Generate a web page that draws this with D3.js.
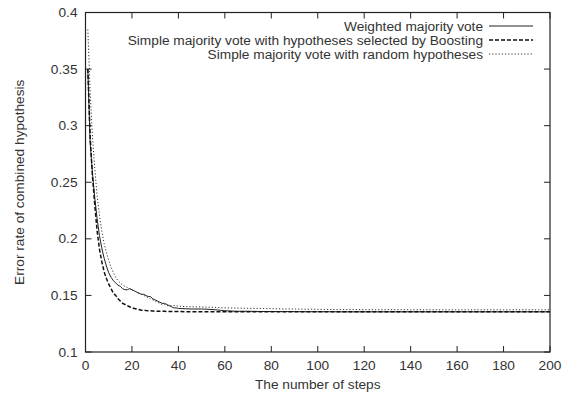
<!DOCTYPE html>
<html><head><meta charset="utf-8">
<script src="https://cdn.jsdelivr.net/npm/d3@7"></script>
<style>
body{margin:0;background:#fff;}
text{font-family:"Liberation Sans",Arial,sans-serif;fill:#333;}
</style></head><body>
<svg id="c" width="571" height="396"></svg>
<script>
const steps = [1,2,3,4,5,6,7,8,9,10,11,12,13,14,15,16,17,18,19,20,21,22,23,24,25,26,27,28,29,30,31,32,33,34,35,36,37,38,39,40,45,50,55,60,65,70,75,80,85,90,95,100,105,110,115,120,125,130,135,140,145,150,155,160,165,170,175,180,185,190,195,200];
const weighted = [0.350,0.285,0.258,0.236,0.218,0.203,0.192,0.183,0.176,0.170,0.166,0.163,0.161,0.159,0.158,0.156,0.155,0.155,0.156,0.155,0.154,0.153,0.152,0.151,0.151,0.150,0.149,0.149,0.147,0.146,0.145,0.144,0.143,0.143,0.142,0.141,0.140,0.139,0.139,0.1385,0.138,0.138,0.1375,0.1365,0.136,0.136,0.1358,0.1358,0.1357,0.1357,0.1356,0.1356,0.1356,0.1355,0.1355,0.1355,0.1355,0.1355,0.1355,0.1355,0.1355,0.1355,0.1355,0.1355,0.1355,0.1355,0.1355,0.1355,0.1355,0.1355,0.1355,0.1355];
const boosting = [0.350,0.290,0.255,0.230,0.207,0.191,0.180,0.171,0.165,0.160,0.156,0.152,0.150,0.147,0.145,0.143,0.142,0.141,0.140,0.139,0.1385,0.138,0.1375,0.137,0.137,0.1367,0.1365,0.1365,0.1363,0.136,0.136,0.136,0.136,0.136,0.1358,0.1358,0.1358,0.1357,0.1357,0.1357,0.1356,0.1356,0.1356,0.1355,0.1355,0.1355,0.1355,0.1355,0.1355,0.1355,0.1355,0.1355,0.1355,0.1355,0.1355,0.1355,0.1355,0.1355,0.1355,0.1355,0.1355,0.1355,0.1355,0.1355,0.1355,0.1355,0.1355,0.1355,0.1355,0.1355,0.1355,0.1355];
const random = [0.385,0.330,0.290,0.262,0.238,0.221,0.207,0.196,0.188,0.181,0.175,0.170,0.166,0.163,0.161,0.159,0.158,0.157,0.156,0.155,0.154,0.153,0.152,0.151,0.150,0.149,0.148,0.147,0.146,0.145,0.144,0.143,0.142,0.142,0.141,0.141,0.141,0.141,0.141,0.1405,0.140,0.1398,0.1395,0.139,0.1388,0.1386,0.1385,0.1383,0.138,0.138,0.1378,0.1377,0.1376,0.1375,0.1375,0.1374,0.1374,0.1374,0.1374,0.1373,0.1373,0.1373,0.1373,0.1373,0.1373,0.1373,0.1373,0.1373,0.1373,0.1373,0.1373,0.1373];
const xTicks = [0,20,40,60,80,100,120,140,160,180,200];
const yTicks = [0.1,0.15,0.2,0.25,0.3,0.35,0.4];
const seriesNames = ["Weighted majority vote","Simple majority vote with hypotheses selected by Boosting","Simple majority vote with random hypotheses"];

const svg = d3.select("#c");
const L=85.5, R=550, T=12.5, B=352;
const x = d3.scaleLinear().domain([0,200]).range([L,R]);
const y = d3.scaleLinear().domain([0.1,0.4]).range([B,T]);
const frame="#222";
const fs=13.7;

const g = svg.append("g");
xTicks.forEach(t=>{
  g.append("line").attr("x1",x(t)).attr("x2",x(t)).attr("y1",B).attr("y2",B-6).attr("stroke",frame);
  g.append("line").attr("x1",x(t)).attr("x2",x(t)).attr("y1",T).attr("y2",T+6).attr("stroke",frame);
  g.append("text").attr("x",x(t)).attr("y",B+18).attr("text-anchor","middle").attr("font-size",fs).text(d3.format("d")(t));
});
yTicks.forEach(t=>{
  g.append("line").attr("x1",L).attr("x2",L+6).attr("y1",y(t)).attr("y2",y(t)).attr("stroke",frame);
  g.append("line").attr("x1",R).attr("x2",R-6).attr("y1",y(t)).attr("y2",y(t)).attr("stroke",frame);
  g.append("text").attr("x",L-8).attr("y",y(t)+4.5).attr("text-anchor","end").attr("font-size",fs).text(String(t));
});
svg.append("rect").attr("x",L).attr("y",T).attr("width",R-L).attr("height",B-T).attr("fill","none").attr("stroke",frame).attr("stroke-width",1.2);

svg.append("text").attr("x",x(100)).attr("y",389).attr("text-anchor","middle").attr("font-size",fs).text("The number of steps");
svg.append("text").attr("transform","translate(24,"+((T+B)/2)+") rotate(-90)").attr("text-anchor","middle").attr("font-size",fs).text("Error rate of combined hypothesis");

const styles=[
 {data:weighted,dash:null,w:1,c:"#222"},
 {data:boosting,dash:"4,2",w:1.5,c:"#111"},
 {data:random,dash:"1.2,2",w:1,c:"#333"}
];
const line=d3.line().x((d,i)=>x(steps[i])).y(d=>y(d));
styles.forEach(s=>{
  svg.append("path").datum(s.data).attr("d",line).attr("fill","none").attr("stroke",s.c).attr("stroke-width",s.w).attr("stroke-dasharray",s.dash);
});

const legY=[26,40,54];
seriesNames.forEach((n,i)=>{
  svg.append("text").attr("x",483).attr("y",legY[i]+4.5).attr("text-anchor","end").attr("font-size",fs).text(n);
  svg.append("line").attr("x1",489).attr("x2",533).attr("y1",legY[i]).attr("y2",legY[i]).attr("stroke",styles[i].c).attr("stroke-width",styles[i].w).attr("stroke-dasharray",styles[i].dash);
});
</script></body></html>
